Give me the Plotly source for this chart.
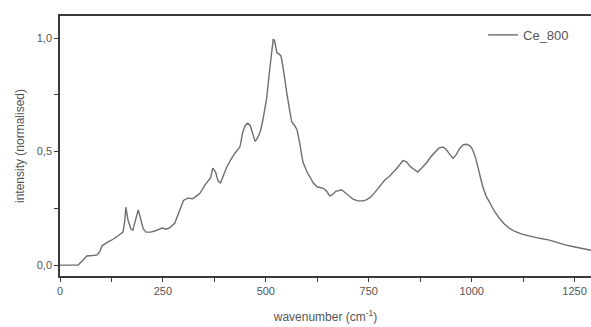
import plotly.graph_objects as go

# Raman spectrum of the Ce_800 sample (normalised intensity)
wavenumber = [
    0, 20, 44, 55, 65, 80, 90, 97, 102, 115, 130, 145, 153, 157, 160, 165, 172,
    177, 183, 190, 195, 202, 209, 220, 230, 240, 248, 258, 267, 279, 290, 300,
    310, 322, 332, 340, 352, 360, 366, 371, 378, 384, 390, 397, 405, 415, 425,
    437, 444, 450, 456, 462, 468, 474, 480, 487, 493, 502, 510, 515, 518, 521,
    527, 532, 537, 542, 547, 551, 558, 563, 570, 576, 582, 590, 600, 607, 616,
    624, 632, 640, 648, 655, 662, 670, 684, 692, 700, 712, 723, 735, 744, 755,
    764, 775, 789, 800, 808, 820, 833, 842, 850, 860, 869, 880, 891, 900, 910,
    920, 930, 938, 946, 955, 962, 971, 980, 988, 996, 1002, 1010, 1019, 1027,
    1035, 1044, 1056, 1068, 1080, 1092, 1105, 1124, 1145, 1165, 1189, 1206,
    1225, 1245, 1265, 1290,
]
intensity = [
    0.0, 0.0, 0.0, 0.02, 0.04, 0.042, 0.045, 0.06, 0.085, 0.10, 0.115, 0.135,
    0.145, 0.19, 0.255, 0.20, 0.16, 0.154, 0.19, 0.243, 0.21, 0.16, 0.145,
    0.145, 0.15, 0.158, 0.163, 0.158, 0.165, 0.185, 0.24, 0.285, 0.295, 0.292,
    0.305, 0.316, 0.352, 0.372, 0.385, 0.427, 0.41, 0.37, 0.362, 0.395, 0.431,
    0.465, 0.493, 0.52, 0.585, 0.615, 0.625, 0.615, 0.58, 0.545, 0.56, 0.59,
    0.64, 0.735, 0.87, 0.97, 0.995, 0.99, 0.935, 0.93, 0.92, 0.87, 0.80, 0.757,
    0.68, 0.63, 0.615, 0.595, 0.54, 0.455, 0.41, 0.387, 0.36, 0.345, 0.342,
    0.338, 0.325, 0.305, 0.31, 0.325, 0.332, 0.32, 0.305, 0.29, 0.283, 0.283,
    0.287, 0.30, 0.318, 0.345, 0.375, 0.39, 0.405, 0.43, 0.46, 0.455, 0.435,
    0.42, 0.41, 0.43, 0.452, 0.475, 0.497, 0.515, 0.52, 0.51, 0.49, 0.47, 0.485,
    0.514, 0.53, 0.532, 0.525, 0.51, 0.47, 0.40, 0.345, 0.305, 0.275, 0.235,
    0.205, 0.18, 0.162, 0.148, 0.135, 0.125, 0.118, 0.11, 0.10, 0.09, 0.082,
    0.073, 0.065,
]
series_name = "Ce_800"

x_ticks = [0, 250, 500, 750, 1000, 1250]
y_ticks = [0.0, 0.5, 1.0]

X_RANGE = [0, 1290]
Y_RANGE = [-0.048, 1.097]

AXIS_COLOR = "#3a3a3a"
TEXT_COLOR = "#555555"
FONT = "Liberation Sans, Arial, sans-serif"

fig = go.Figure()
fig.add_trace(go.Scatter(
    x=wavenumber, y=intensity, mode="lines", name=series_name,
    line=dict(color="#6e6e6e", width=1.4),
))

fig.update_layout(
    width=591, height=327,
    margin=dict(l=60, r=0, t=16, b=51),
    paper_bgcolor="white", plot_bgcolor="white",
    separators=",.",
    font=dict(family=FONT, size=11, color=TEXT_COLOR),
    showlegend=True,
    legend=dict(
        x=0.968, y=0.985, xanchor="right", yanchor="top",
        bgcolor="rgba(0,0,0,0)", borderwidth=0,
        font=dict(size=13, color=TEXT_COLOR),
    ),
    xaxis=dict(
        range=X_RANGE, tickvals=x_ticks, ticktext=[str(v) for v in x_ticks],
        showline=True, linecolor=AXIS_COLOR, linewidth=1.5, mirror=True,
        ticks="outside", ticklen=4, tickwidth=1.2, tickcolor=AXIS_COLOR,
        minor=dict(dtick=125, tick0=0, ticks="outside", ticklen=4,
                   tickwidth=1.2, tickcolor=AXIS_COLOR, showgrid=False),
        showgrid=False, zeroline=False,
        title=dict(text="wavenumber (cm<sup>-1</sup>)", standoff=17,
                   font=dict(size=12, color=TEXT_COLOR)),
    ),
    xaxis2=dict(
        range=X_RANGE, overlaying="x", side="top", anchor="y",
        tickvals=x_ticks, showticklabels=False,
        ticks="inside", ticklen=4, tickwidth=1.2, tickcolor=AXIS_COLOR,
        minor=dict(dtick=125, tick0=0, ticks="inside", ticklen=4,
                   tickwidth=1.2, tickcolor=AXIS_COLOR, showgrid=False),
        showgrid=False, zeroline=False, showline=False,
    ),
    yaxis=dict(
        range=Y_RANGE, tickvals=y_ticks, tickformat=".1f",
        showline=True, linecolor=AXIS_COLOR, linewidth=1.5,
        ticks="outside", ticklen=4, tickwidth=1.2, tickcolor=AXIS_COLOR,
        minor=dict(dtick=0.25, tick0=0, ticks="outside", ticklen=4,
                   tickwidth=1.2, tickcolor=AXIS_COLOR, showgrid=False),
        showgrid=False, zeroline=False,
        title=dict(text="intensity (normalised)", standoff=10,
                   font=dict(size=12, color=TEXT_COLOR)),
    ),
)

fig.write_html("out.html")
